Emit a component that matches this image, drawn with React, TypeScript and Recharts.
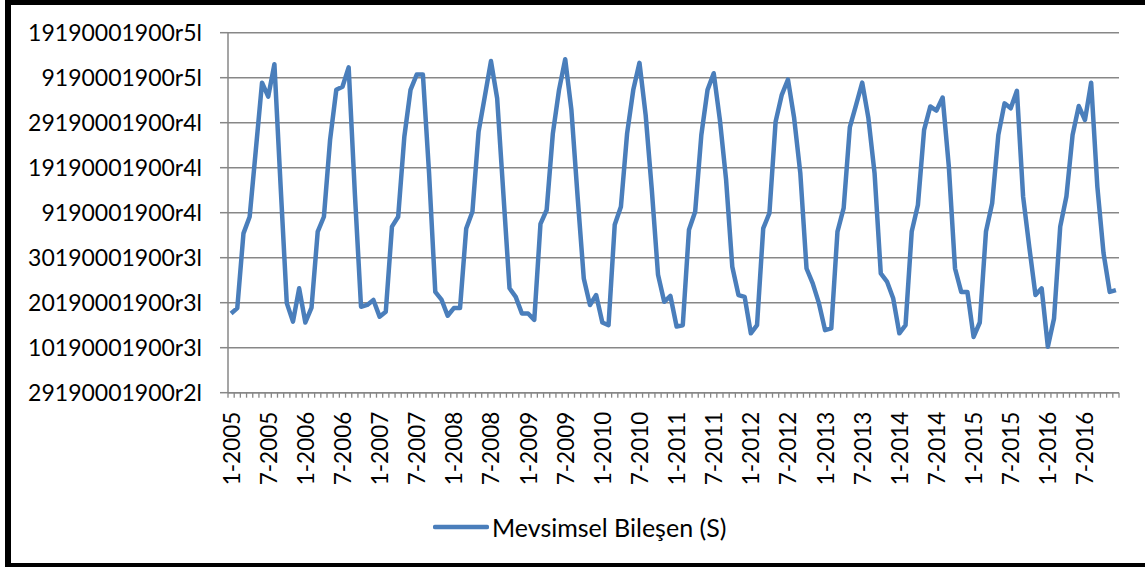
import React from 'react';
import { LineChart, Line, XAxis, YAxis, CartesianGrid, Legend } from 'recharts';

const YEARS = [2005, 2006, 2007, 2008, 2009, 2010, 2011, 2012, 2013, 2014, 2015, 2016];
const MONTHS = [1, 2, 3, 4, 5, 6, 7, 8, 9, 10, 11, 12];

// seasonal component, one row per year (Jan..Dec)
const S_2005 = [1.76, 1.88, 3.54, 3.91, 5.4, 6.89, 6.58, 7.3, 4.6, 1.99, 1.58, 2.32];
const S_2006 = [1.56, 1.89, 3.58, 3.91, 5.62, 6.73, 6.8, 7.23, 4.43, 1.91, 1.95, 2.06];
const S_2007 = [1.69, 1.8, 3.69, 3.91, 5.69, 6.73, 7.07, 7.07, 4.87, 2.24, 2.07, 1.71];
const S_2008 = [1.88, 1.88, 3.65, 4.02, 5.8, 6.58, 7.37, 6.54, 4.43, 2.32, 2.13, 1.76];
const S_2009 = [1.76, 1.62, 3.75, 4.06, 5.76, 6.73, 7.41, 6.28, 4.36, 2.54, 1.95, 2.17];
const S_2010 = [1.56, 1.5, 3.73, 4.13, 5.76, 6.73, 7.33, 6.17, 4.5, 2.62, 2.02, 2.15];
const S_2011 = [1.47, 1.5, 3.62, 4.02, 5.73, 6.73, 7.1, 6.06, 4.73, 2.8, 2.17, 2.13];
const S_2012 = [1.32, 1.5, 3.65, 3.99, 6.02, 6.62, 6.96, 6.1, 4.87, 2.76, 2.43, 1.99];
const S_2013 = [1.39, 1.43, 3.58, 4.1, 5.9, 6.39, 6.89, 6.1, 4.87, 2.65, 2.47, 2.1];
const S_2014 = [1.32, 1.5, 3.58, 4.17, 5.84, 6.36, 6.27, 6.56, 5.02, 2.76, 2.24, 2.24];
const S_2015 = [1.24, 1.56, 3.58, 4.21, 5.73, 6.43, 6.32, 6.71, 4.36, 3.24, 2.17, 2.32];
const S_2016 = [1.02, 1.65, 3.69, 4.36, 5.73, 6.37, 6.06, 6.89, 4.58, 3.1, 2.24, 2.28];

const SERIES = [S_2005, S_2006, S_2007, S_2008, S_2009, S_2010, S_2011, S_2012, S_2013, S_2014, S_2015, S_2016];

// y tick labels, bottom to top
const Y_LABELS = [
  '29190001900r2l',
  '10190001900r3l',
  '20190001900r3l',
  '30190001900r3l',
  '9190001900r4l',
  '19190001900r4l',
  '29190001900r4l',
  '9190001900r5l',
  '19190001900r5l',
];
const Y_TICKS = Y_LABELS.map((_, i) => i);

const SERIES_NAME = 'Mevsimsel Bileşen (S)';

const data = YEARS.flatMap((yr, yi) =>
  MONTHS.map((m, mi) => ({ month: `${m}-${yr}`, s: SERIES[yi][mi] }))
);

const W = 1145;
const H = 567;
const LEFT = 228;
const RIGHT = 26;
const PLOT_W = W - LEFT - RIGHT;
const STEP = PLOT_W / data.length;
const FONT = 'Lato, "Open Sans", sans-serif';
const GRID = '#878787';
const BLUE = '#4a7ebb';

const MonthTick = (props: any) => {
  const { x, y, payload, index } = props;
  const i = payload?.index ?? index;
  const left = x - STEP / 2;
  return (
    <g>
      <line x1={left} x2={left} y1={y} y2={y + 5} stroke={GRID} strokeWidth={1.3} />
      {i === data.length - 1 && (
        <line x1={x + STEP / 2} x2={x + STEP / 2} y1={y} y2={y + 5} stroke={GRID} strokeWidth={1.3} />
      )}
      {i % 6 === 0 && (
        <text
          x={x}
          y={y + 19}
          transform={`rotate(-90, ${x}, ${y + 19})`}
          textAnchor="end"
          dominantBaseline="central"
          fontSize={22.5}
          fontFamily={FONT}
          fill="#000"
        >
          {payload.value}
        </text>
      )}
    </g>
  );
};

const LegendContent = () => (
  <div style={{ display: 'flex', alignItems: 'center', height: 34 }}>
    <svg width={56} height={34}>
      <line x1={2} x2={54} y1={17} y2={17} stroke={BLUE} strokeWidth={4.5} strokeLinecap="round" />
    </svg>
    <span style={{ fontFamily: FONT, fontSize: 25, color: '#000', marginLeft: 3, lineHeight: '34px', whiteSpace: 'nowrap' }}>
      {SERIES_NAME}
    </span>
  </div>
);

export default function App() {
  return (
    <div style={{ position: 'absolute', left: 0, top: 0, width: W, height: H, overflow: 'hidden', background: '#fff' }}>
      <div
        style={{
          position: 'absolute',
          left: 5,
          top: 0,
          width: W + 40,
          height: H,
          boxSizing: 'border-box',
          borderTop: '5px solid #000',
          borderLeft: '6px solid #000',
          borderBottom: '4px solid #000',
        }}
      />
      <div style={{ position: 'absolute', left: 0, top: 0 }}>
        <LineChart width={W} height={H} data={data} margin={{ top: 32.7, right: RIGHT, left: 0, bottom: 74.3 }}>
          <CartesianGrid vertical={false} stroke={GRID} strokeWidth={1.5} />
          <XAxis
            dataKey="month"
            interval={0}
            height={100}
            padding={{ left: STEP / 2, right: STEP / 2 }}
            tickLine={false}
            tickSize={0}
            tickMargin={0}
            axisLine={{ stroke: GRID, strokeWidth: 1.5 }}
            tick={<MonthTick />}
          />
          <YAxis
            width={LEFT}
            domain={[0, 8]}
            ticks={Y_TICKS}
            interval={0}
            tickFormatter={(v: number) => Y_LABELS[v]}
            tickSize={8}
            tickMargin={18}
            tickLine={{ stroke: GRID, strokeWidth: 1.5 }}
            axisLine={{ stroke: GRID, strokeWidth: 1.5 }}
            tick={{ fontSize: 23, fontFamily: FONT, fill: '#000' }}
          />
          <Legend
            layout="horizontal"
            verticalAlign="middle"
            align="center"
            content={<LegendContent />}
            wrapperStyle={{ position: 'absolute', left: 433, top: 510, width: 360, height: 34 }}
          />
          <Line
            type="linear"
            dataKey="s"
            name={SERIES_NAME}
            stroke={BLUE}
            strokeWidth={4.5}
            strokeLinejoin="round"
            dot={false}
            activeDot={false}
            isAnimationActive={false}
          />
        </LineChart>
      </div>
    </div>
  );
}
